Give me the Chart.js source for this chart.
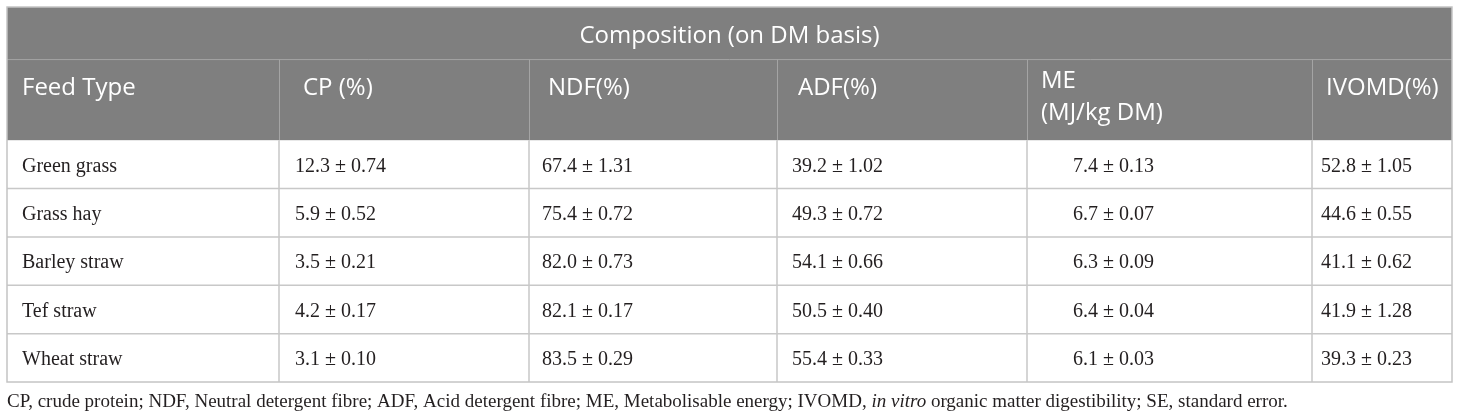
<!DOCTYPE html>
<html>
<head>
<meta charset="utf-8">
<script src="https://cdn.jsdelivr.net/npm/chart.js@4.4.1/dist/chart.umd.min.js"></script>
<style>
  html, body { margin: 0; padding: 0; background: #fff; }
  #wrap { width: 1460px; height: 419px; }
</style>
</head>
<body>
<div id="wrap"><canvas id="tableChart" width="1460" height="419"></canvas></div>
<script>
// ---- data ----
const groupTitle = "Composition (on DM basis)";
const columnHeaders = ["Feed Type", "CP (%)", "NDF(%)", "ADF(%)", ["ME", "(MJ/kg DM)"], "IVOMD(%)"];
const feedTypes = ["Green grass", "Grass hay", "Barley straw", "Tef straw", "Wheat straw"];

const cpMean = [12.3, 5.9, 3.5, 4.2, 3.1];
const cpSe = [0.74, 0.52, 0.21, 0.17, 0.10];
const ndfMean = [67.4, 75.4, 82.0, 82.1, 83.5];
const ndfSe = [1.31, 0.72, 0.73, 0.17, 0.29];
const adfMean = [39.2, 49.3, 54.1, 50.5, 55.4];
const adfSe = [1.02, 0.72, 0.66, 0.40, 0.33];
const meMean = [7.4, 6.7, 6.3, 6.4, 6.1];
const meSe = [0.13, 0.07, 0.09, 0.04, 0.03];
const ivomdMean = [52.8, 44.6, 41.1, 41.9, 39.3];
const ivomdSe = [1.05, 0.55, 0.62, 1.28, 0.23];

const footnote = [
  { text: "CP, crude protein; NDF, Neutral detergent fibre; ADF, Acid detergent fibre; ME, Metabolisable energy; IVOMD, ", italic: false },
  { text: "in vitro", italic: true },
  { text: " organic matter digestibility; SE, standard error.", italic: false }
];

// ---- layout (table units = px) ----
const colWidths = [272, 250, 248, 250, 285, 140];
const headInset = [15, 24, 19, 21, 14, 14];
const cellInset = [15, 16, 13, 15, 46, 9];
const groupRowH = 52;
const headRowH = 81;
const bodyRowH = 48.3;

const colEdges = colWidths.reduce((a, w) => { a.push(a[a.length - 1] + w); return a; }, [0]);
const tableW = colEdges[colEdges.length - 1];
const bodyTop = groupRowH + headRowH;
const tableH = bodyTop + bodyRowH * feedTypes.length;

const valueCols = [
  [cpMean, cpSe], [ndfMean, ndfSe], [adfMean, adfSe], [meMean, meSe], [ivomdMean, ivomdSe]
];
const fmt = (m, s) => m.toFixed(1) + " \u00B1 " + s.toFixed(2);

const headFont = '24px "Open Sans", "Noto Sans", sans-serif';
const cellFont = '20px "Liberation Serif", "DejaVu Serif", serif';
const noteSize = 19;

// ---- table drawn on the chart scales ----
const tablePlugin = {
  id: "tableGrid",
  afterDraw(chart) {
    const { ctx, scales: { x, y } } = chart;
    const X = v => x.getPixelForValue(v);
    const Y = v => y.getPixelForValue(v);
    ctx.save();

    // header background
    ctx.fillStyle = "#7f7f7f";
    ctx.fillRect(X(0), Y(0), X(tableW) - X(0), Y(bodyTop) - Y(0));

    // header lines
    ctx.strokeStyle = "#a4a4a4";
    ctx.lineWidth = 1;
    ctx.beginPath();
    ctx.moveTo(X(0), Y(groupRowH) + 0.5);
    ctx.lineTo(X(tableW), Y(groupRowH) + 0.5);
    colEdges.slice(1, -1).forEach(e => {
      ctx.moveTo(Math.round(X(e)) + 0.5, Y(groupRowH));
      ctx.lineTo(Math.round(X(e)) + 0.5, Y(bodyTop));
    });
    ctx.stroke();

    // body lines
    ctx.strokeStyle = "#c8c8c8";
    ctx.lineWidth = 1.5;
    ctx.beginPath();
    for (let i = 1; i < feedTypes.length; i++) {
      const yy = Y(bodyTop + bodyRowH * i);
      ctx.moveTo(X(0), yy);
      ctx.lineTo(X(tableW), yy);
    }
    colEdges.slice(1, -1).forEach(e => {
      ctx.moveTo(X(e), Y(bodyTop));
      ctx.lineTo(X(e), Y(tableH));
    });
    ctx.stroke();

    // outer border
    ctx.strokeStyle = "#c4c4c4";
    ctx.lineWidth = 1.5;
    ctx.strokeRect(X(0), Y(0), X(tableW) - X(0), Y(tableH) - Y(0));

    // group title
    ctx.fillStyle = "#ffffff";
    ctx.font = headFont;
    ctx.textAlign = "center";
    ctx.textBaseline = "alphabetic";
    ctx.fillText(groupTitle, X(tableW / 2), Y(36));

    // column headers
    ctx.textAlign = "left";
    columnHeaders.forEach((h, c) => {
      const lines = Array.isArray(h) ? h : [h];
      const base = lines.length > 1 ? 29 : 36;
      lines.forEach((ln, k) => {
        ctx.fillText(ln, X(colEdges[c] + headInset[c]), Y(groupRowH + base + k * 32));
      });
    });

    // body cells
    ctx.fillStyle = "#231f20";
    ctx.font = cellFont;
    feedTypes.forEach((f, r) => {
      const yy = Y(bodyTop + bodyRowH * r + 31.5);
      ctx.fillText(f, X(colEdges[0] + cellInset[0]), yy);
      valueCols.forEach(([m, s], k) => {
        ctx.fillText(fmt(m[r], s[r]), X(colEdges[k + 1] + cellInset[k + 1]), yy);
      });
    });

    // footnote
    let fx = X(0);
    const fy = Y(tableH) + 25;
    footnote.forEach(part => {
      ctx.font = (part.italic ? "italic " : "") + noteSize + 'px "Liberation Serif", "DejaVu Serif", serif';
      ctx.fillText(part.text, fx, fy);
      fx += ctx.measureText(part.text).width;
    });

    ctx.restore();
  }
};

new Chart(document.getElementById("tableChart"), {
  type: "scatter",
  data: { datasets: [] },
  options: {
    responsive: false,
    animation: false,
    devicePixelRatio: 1,
    layout: { padding: { left: 7, right: 8, top: 7, bottom: 37 } },
    plugins: { legend: { display: false }, tooltip: { enabled: false } },
    scales: {
      x: { type: "linear", min: 0, max: tableW, display: false },
      y: { type: "linear", min: 0, max: tableH, reverse: true, display: false }
    }
  },
  plugins: [tablePlugin]
});
</script>
</body>
</html>
